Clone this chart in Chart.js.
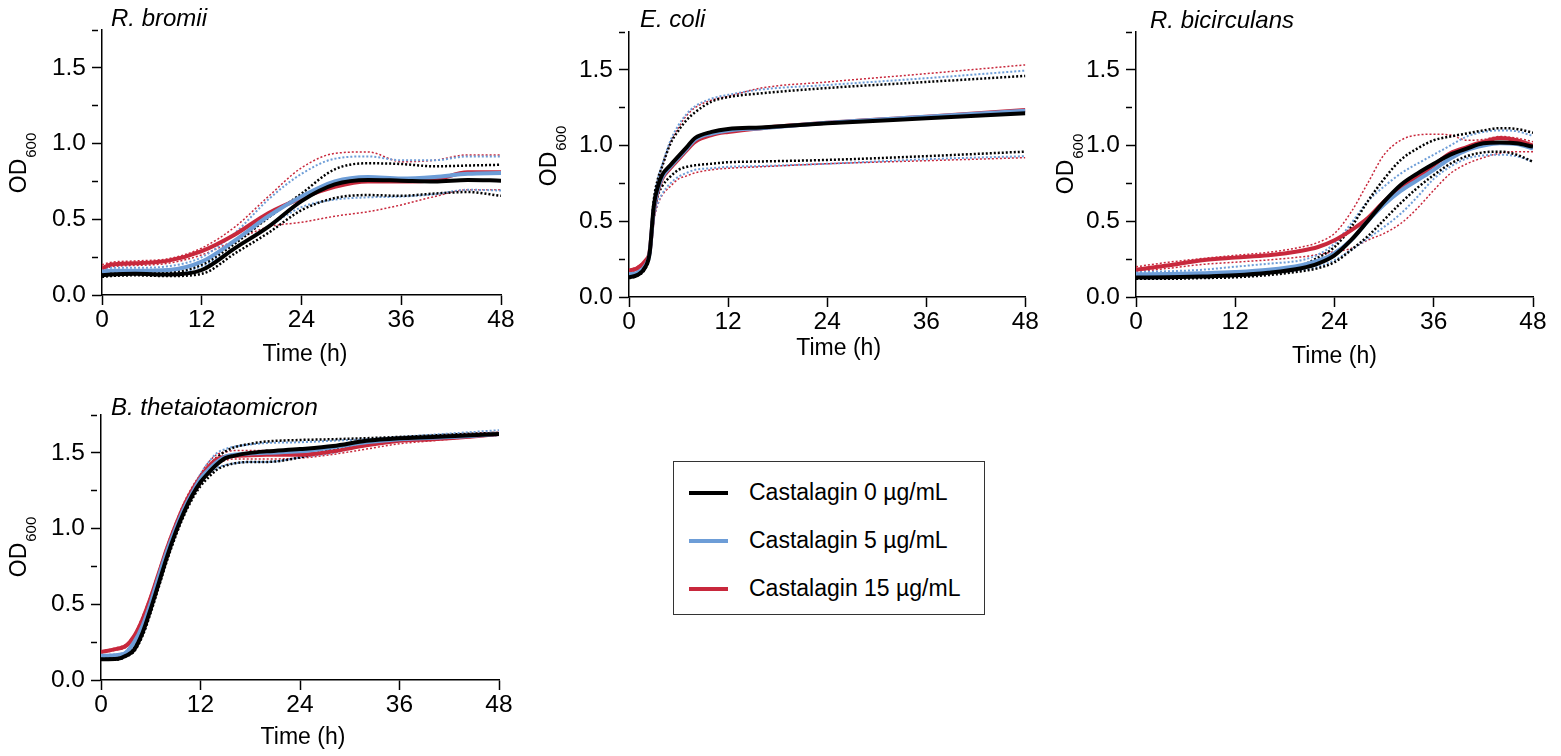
<!DOCTYPE html>
<html>
<head>
<meta charset="utf-8">
<script src="https://cdn.jsdelivr.net/npm/chart.js@4.4.1/dist/chart.umd.min.js"></script>
<style>
  body { margin: 0; background: #fff; width: 1561px; height: 756px; position: relative; overflow: hidden;
         font-family: 'Liberation Sans', Arial, sans-serif; }
  .panel { position: absolute; }
  #legend { position: absolute; left: 673px; top: 461px; width: 312px; height: 154px;
            box-sizing: border-box; border: 1.5px solid #333; }
  .row { position: absolute; left: 0; height: 0; }
  .row i { position: absolute; left: 15px; width: 39px; height: 4px; top: -2px; }
  .row span { position: absolute; left: 75px; top: -14px; font-size: 23px; line-height: 27px; white-space: nowrap; color: #000; }
</style>
</head>
<body>
<canvas id="cBromii" class="panel" width="520" height="375" style="left:0;top:0"></canvas>
<canvas id="cColi" class="panel" width="520" height="375" style="left:520px;top:0"></canvas>
<canvas id="cBicirc" class="panel" width="521" height="375" style="left:1040px;top:0"></canvas>
<canvas id="cTheta" class="panel" width="520" height="380" style="left:0;top:376px"></canvas>

<div id="legend">
  <div class="row" style="top:31px"><i style="background:#000000"></i><span>Castalagin 0 µg/mL</span></div>
  <div class="row" style="top:79px"><i style="background:#6d9dd7"></i><span>Castalagin 5 µg/mL</span></div>
  <div class="row" style="top:127px"><i style="background:#c8283c"></i><span>Castalagin 15 µg/mL</span></div>
</div>

<script>
// ---- data: OD600 over time (h), mean and mean ± SD per castalagin dose ----

// R. bromii
const bromiiTime = [0, 1, 4, 8, 12, 16, 20, 24, 28, 32, 36, 40, 44, 48];
const bromii0    = [0.13, 0.135, 0.14, 0.135, 0.165, 0.31, 0.45, 0.62, 0.73, 0.76, 0.755, 0.75, 0.76, 0.755];
const bromii0Hi  = [0.14, 0.145, 0.15, 0.15, 0.20, 0.34, 0.51, 0.67, 0.83, 0.87, 0.865, 0.85, 0.855, 0.86];
const bromii0Lo  = [0.12, 0.125, 0.13, 0.125, 0.14, 0.275, 0.41, 0.56, 0.64, 0.66, 0.655, 0.67, 0.68, 0.655];
const bromii5    = [0.155, 0.16, 0.16, 0.165, 0.22, 0.36, 0.52, 0.65, 0.75, 0.78, 0.77, 0.78, 0.80, 0.805];
const bromii5Hi  = [0.175, 0.18, 0.18, 0.19, 0.25, 0.41, 0.63, 0.80, 0.90, 0.915, 0.89, 0.89, 0.915, 0.915];
const bromii5Lo  = [0.13, 0.14, 0.14, 0.14, 0.19, 0.31, 0.45, 0.58, 0.63, 0.645, 0.65, 0.665, 0.695, 0.69];
const bromii15   = [0.175, 0.20, 0.21, 0.227, 0.29, 0.40, 0.54, 0.64, 0.715, 0.75, 0.75, 0.76, 0.81, 0.81];
const bromii15Hi = [0.20, 0.215, 0.225, 0.24, 0.31, 0.45, 0.65, 0.84, 0.935, 0.945, 0.88, 0.89, 0.925, 0.925];
const bromii15Lo = [0.155, 0.185, 0.195, 0.21, 0.265, 0.36, 0.45, 0.48, 0.52, 0.55, 0.595, 0.65, 0.695, 0.695];

// E. coli
const coliTime = [0, 1, 2, 2.5, 3, 3.5, 4, 5, 6, 7, 8, 10, 12, 16, 24, 36, 48];
const coli0    = [0.13, 0.145, 0.20, 0.29, 0.60, 0.73, 0.805, 0.87, 0.93, 0.99, 1.05, 1.09, 1.11, 1.12, 1.147, 1.18, 1.213];
const coli0Hi  = [0.135, 0.15, 0.21, 0.31, 0.64, 0.78, 0.86, 1.01, 1.10, 1.17, 1.22, 1.29, 1.32, 1.345, 1.38, 1.42, 1.46];
const coli0Lo  = [0.125, 0.14, 0.19, 0.27, 0.53, 0.67, 0.73, 0.795, 0.84, 0.86, 0.87, 0.88, 0.89, 0.895, 0.905, 0.93, 0.96];
const coli5    = [0.15, 0.16, 0.21, 0.29, 0.58, 0.71, 0.79, 0.86, 0.92, 0.98, 1.04, 1.08, 1.10, 1.115, 1.15, 1.19, 1.23];
const coli5Hi  = [0.155, 0.165, 0.22, 0.31, 0.63, 0.78, 0.87, 1.03, 1.135, 1.21, 1.26, 1.31, 1.335, 1.37, 1.40, 1.445, 1.495];
const coli5Lo  = [0.14, 0.155, 0.20, 0.27, 0.51, 0.62, 0.68, 0.75, 0.795, 0.82, 0.84, 0.85, 0.86, 0.865, 0.88, 0.91, 0.93];
const coli15   = [0.175, 0.19, 0.24, 0.30, 0.57, 0.70, 0.78, 0.85, 0.91, 0.97, 1.025, 1.07, 1.09, 1.115, 1.15, 1.19, 1.235];
const coli15Hi = [0.18, 0.20, 0.25, 0.32, 0.62, 0.77, 0.86, 1.02, 1.12, 1.20, 1.25, 1.30, 1.325, 1.38, 1.42, 1.475, 1.533];
const coli15Lo = [0.165, 0.18, 0.23, 0.28, 0.50, 0.61, 0.67, 0.73, 0.78, 0.80, 0.82, 0.84, 0.85, 0.86, 0.88, 0.90, 0.92];

// R. bicirculans
const bicircTime = [0, 4, 8, 12, 16, 20, 22, 24, 26, 28, 30, 32, 34, 36, 38, 40, 42, 44, 46, 48];
const bicirc0    = [0.128, 0.13, 0.135, 0.143, 0.16, 0.19, 0.22, 0.275, 0.375, 0.50, 0.63, 0.74, 0.815, 0.88, 0.94, 0.98, 1.015, 1.02, 1.015, 0.993];
const bicirc0Hi  = [0.137, 0.14, 0.15, 0.16, 0.18, 0.21, 0.26, 0.33, 0.46, 0.63, 0.78, 0.905, 0.98, 1.035, 1.06, 1.08, 1.10, 1.115, 1.11, 1.085];
const bicirc0Lo  = [0.12, 0.12, 0.125, 0.13, 0.145, 0.17, 0.19, 0.23, 0.31, 0.40, 0.51, 0.62, 0.72, 0.805, 0.88, 0.93, 0.955, 0.96, 0.94, 0.893];
const bicirc5    = [0.15, 0.152, 0.157, 0.165, 0.18, 0.21, 0.24, 0.29, 0.375, 0.50, 0.61, 0.70, 0.77, 0.84, 0.915, 0.97, 1.00, 1.015, 1.01, 0.98];
const bicirc5Hi  = [0.165, 0.17, 0.18, 0.20, 0.22, 0.243, 0.28, 0.353, 0.485, 0.63, 0.73, 0.815, 0.88, 0.94, 1.00, 1.06, 1.09, 1.10, 1.095, 1.063];
const bicirc5Lo  = [0.13, 0.135, 0.14, 0.145, 0.155, 0.176, 0.20, 0.243, 0.31, 0.386, 0.463, 0.55, 0.66, 0.78, 0.86, 0.915, 0.935, 0.94, 0.93, 0.893];
const bicirc15   = [0.18, 0.21, 0.243, 0.26, 0.275, 0.305, 0.33, 0.375, 0.44, 0.52, 0.63, 0.72, 0.79, 0.87, 0.95, 0.99, 1.025, 1.05, 1.035, 1.00];
const bicirc15Hi = [0.20, 0.23, 0.254, 0.275, 0.295, 0.33, 0.36, 0.42, 0.56, 0.75, 0.94, 1.035, 1.07, 1.075, 1.07, 1.035, 1.04, 1.06, 1.05, 1.025];
const bicirc15Lo = [0.165, 0.19, 0.215, 0.23, 0.245, 0.265, 0.28, 0.30, 0.32, 0.375, 0.42, 0.485, 0.585, 0.705, 0.815, 0.88, 0.92, 0.95, 0.96, 0.96];

// B. thetaiotaomicron
const thetaTime = [0, 2, 3, 4, 5, 6, 7, 8, 9, 10, 11, 12, 13, 14, 15, 16, 18, 20, 24, 28, 32, 36, 40, 44, 48];
const theta0    = [0.137, 0.14, 0.16, 0.20, 0.31, 0.47, 0.645, 0.82, 0.975, 1.107, 1.218, 1.306, 1.37, 1.425, 1.465, 1.48, 1.50, 1.51, 1.525, 1.545, 1.58, 1.597, 1.605, 1.615, 1.625];
const theta0Hi  = [0.14, 0.145, 0.165, 0.21, 0.33, 0.50, 0.67, 0.845, 1.00, 1.13, 1.245, 1.335, 1.41, 1.47, 1.51, 1.535, 1.56, 1.575, 1.585, 1.59, 1.597, 1.605, 1.615, 1.625, 1.632];
const theta0Lo  = [0.133, 0.135, 0.155, 0.19, 0.29, 0.445, 0.62, 0.795, 0.95, 1.085, 1.195, 1.28, 1.34, 1.39, 1.415, 1.43, 1.44, 1.44, 1.47, 1.525, 1.56, 1.59, 1.597, 1.61, 1.62];
const theta5    = [0.16, 0.165, 0.18, 0.25, 0.357, 0.51, 0.69, 0.855, 1.00, 1.13, 1.235, 1.33, 1.39, 1.44, 1.475, 1.487, 1.495, 1.50, 1.51, 1.537, 1.57, 1.59, 1.60, 1.61, 1.625];
const theta5Hi  = [0.165, 0.17, 0.19, 0.265, 0.38, 0.535, 0.715, 0.88, 1.025, 1.155, 1.26, 1.36, 1.44, 1.50, 1.525, 1.54, 1.555, 1.565, 1.57, 1.58, 1.59, 1.605, 1.62, 1.635, 1.65];
const theta5Lo  = [0.155, 0.16, 0.17, 0.235, 0.335, 0.485, 0.665, 0.83, 0.975, 1.105, 1.21, 1.30, 1.36, 1.40, 1.42, 1.43, 1.44, 1.44, 1.47, 1.50, 1.55, 1.58, 1.595, 1.605, 1.615];
const theta15   = [0.185, 0.207, 0.225, 0.29, 0.40, 0.545, 0.71, 0.875, 1.02, 1.15, 1.255, 1.34, 1.41, 1.46, 1.475, 1.48, 1.485, 1.487, 1.487, 1.51, 1.55, 1.58, 1.59, 1.605, 1.625];
const theta15Hi = [0.19, 0.215, 0.235, 0.30, 0.42, 0.565, 0.73, 0.895, 1.04, 1.17, 1.275, 1.36, 1.44, 1.49, 1.505, 1.515, 1.515, 1.515, 1.515, 1.54, 1.57, 1.595, 1.61, 1.625, 1.637];
const theta15Lo = [0.18, 0.20, 0.215, 0.28, 0.38, 0.525, 0.69, 0.855, 1.00, 1.13, 1.235, 1.32, 1.39, 1.43, 1.45, 1.46, 1.46, 1.46, 1.465, 1.49, 1.525, 1.56, 1.58, 1.60, 1.62];

const xTicks = [0, 12, 24, 36, 48];
const yTicks = [0, 0.25, 0.5, 0.75, 1.0, 1.25, 1.5, 1.75];

const FONT = "'Liberation Sans', Arial, sans-serif";
const colours = { 0: '#000000', 5: '#6d9dd7', 15: '#c8283c' };
const dotWidth = { 0: 2.5, 5: 2, 15: 1.5 };

function pts(time, vals) {
  return time.map((t, i) => ({ x: t, y: vals[i] }));
}

// dotted SD bounds underneath, solid means on top (black mean topmost)
function buildDatasets(time, s) {
  const ds = [];
  const doses = [[0, s.m0, s.hi0, s.lo0], [5, s.m5, s.hi5, s.lo5], [15, s.m15, s.hi15, s.lo15]];
  doses.forEach(([dose, m, hi, lo], k) => {
    [hi, lo].forEach(b => ds.push({
      data: pts(time, b),
      borderColor: colours[dose],
      borderWidth: dotWidth[dose],
      borderDash: [2, 2],
      pointRadius: 0,
      cubicInterpolationMode: 'monotone',
      order: 10 + k
    }));
    ds.push({
      data: pts(time, m),
      borderColor: colours[dose],
      borderWidth: 4,
      pointRadius: 0,
      cubicInterpolationMode: 'monotone',
      order: k
    });
  });
  return ds;
}

// species name, OD600 and Time (h) labels
const panelText = {
  id: 'panelText',
  afterDraw(chart, args, o) {
    const ctx = chart.ctx, a = chart.chartArea;
    ctx.save();
    ctx.fillStyle = '#000';
    ctx.textBaseline = 'middle';

    ctx.font = 'italic 24px ' + FONT;
    ctx.textAlign = 'left';
    ctx.fillText(o.species, a.left + o.sx, a.top + o.sy);

    ctx.font = '23px ' + FONT;
    ctx.textAlign = 'center';
    ctx.fillText('Time (h)', (a.left + a.right) / 2 + o.tx, a.bottom + o.ty);

    ctx.translate(a.left + o.ox, (a.top + a.bottom) / 2 + o.oy);
    ctx.rotate(-Math.PI / 2);
    ctx.textAlign = 'left';
    ctx.font = '23px ' + FONT;
    const w1 = ctx.measureText('OD').width;
    ctx.font = '15px ' + FONT;
    const w2 = ctx.measureText('600').width;
    const x0 = -(w1 + w2) / 2;
    ctx.font = '23px ' + FONT;
    ctx.fillText('OD', x0, 0);
    ctx.font = '15px ' + FONT;
    ctx.fillText('600', x0 + w1 + 1, 12);
    ctx.restore();
  }
};

function makePanel(id, time, series, p) {
  return new Chart(document.getElementById(id), {
    type: 'line',
    data: { datasets: buildDatasets(time, series) },
    plugins: [panelText],
    options: {
      responsive: false,
      animation: false,
      events: [],
      layout: { padding: { top: p.top, right: p.right, left: 0, bottom: 0 } },
      plugins: {
        legend: { display: false },
        tooltip: { enabled: false },
        title: { display: false },
        panelText: p.text
      },
      scales: {
        x: {
          type: 'linear',
          min: 0, max: 48,
          afterBuildTicks: s => { s.ticks = xTicks.map(v => ({ value: v })); },
          afterFit: s => { s.height = p.xh; },
          border: { display: true, color: '#000', width: 1.5 },
          grid: { drawOnChartArea: false, drawTicks: true, tickLength: 10, tickColor: '#000', tickWidth: 1.5 },
          ticks: { color: '#000', padding: 1, maxRotation: 0, font: { family: FONT, size: 24.5 } }
        },
        y: {
          type: 'linear',
          min: 0, max: 1.75,
          afterBuildTicks: s => { s.ticks = yTicks.map(v => ({ value: v })); },
          afterFit: s => { s.width = p.yw; },
          border: { display: true, color: '#000', width: 1.5 },
          grid: {
            drawOnChartArea: false, drawTicks: true, tickLength: 10, tickColor: '#000', tickWidth: 1.5,
            tickBorderDash: c => (c.tick && Math.round(c.tick.value * 100) % 50 !== 0) ? [6, 40] : []
          },
          ticks: {
            color: '#000', padding: 6, font: { family: FONT, size: 24.5 },
            callback: v => (Math.round(v * 100) % 50 === 0) ? v.toFixed(1) : ''
          }
        }
      }
    }
  });
}

makePanel('cBromii', bromiiTime,
  { m0: bromii0, hi0: bromii0Hi, lo0: bromii0Lo, m5: bromii5, hi5: bromii5Hi, lo5: bromii5Lo, m15: bromii15, hi15: bromii15Hi, lo15: bromii15Lo },
  { top: 30, right: 19, yw: 102, xh: 80,
    text: { species: 'R. bromii', sx: 9, sy: -11, tx: 3.5, ty: 60, ox: -82, oy: 1 } });

makePanel('cColi', coliTime,
  { m0: coli0, hi0: coli0Hi, lo0: coli0Lo, m5: coli5, hi5: coli5Hi, lo5: coli5Lo, m15: coli15, hi15: coli15Hi, lo15: coli15Lo },
  { top: 32, right: 12, yw: 109, xh: 78,
    text: { species: 'E. coli', sx: 11, sy: -12, tx: 11.5, ty: 52, ox: -79, oy: -8 } });

makePanel('cBicirc', bicircTime,
  { m0: bicirc0, hi0: bicirc0Hi, lo0: bicirc0Lo, m5: bicirc5, hi5: bicirc5Hi, lo5: bicirc5Lo, m15: bicirc15, hi15: bicirc15Hi, lo15: bicirc15Lo },
  { top: 32, right: 28, yw: 96, xh: 78,
    text: { species: 'R. bicirculans', sx: 14, sy: -11, tx: 0, ty: 60, ox: -69, oy: 0 } });

makePanel('cTheta', thetaTime,
  { m0: theta0, hi0: theta0Hi, lo0: theta0Lo, m5: theta5, hi5: theta5Hi, lo5: theta5Lo, m15: theta15, hi15: theta15Hi, lo15: theta15Lo },
  { top: 39, right: 21, yw: 101, xh: 76,
    text: { species: 'B. thetaiotaomicron', sx: 10, sy: -7, tx: 3, ty: 58, ox: -81, oy: 0 } });
</script>
</body>
</html>
